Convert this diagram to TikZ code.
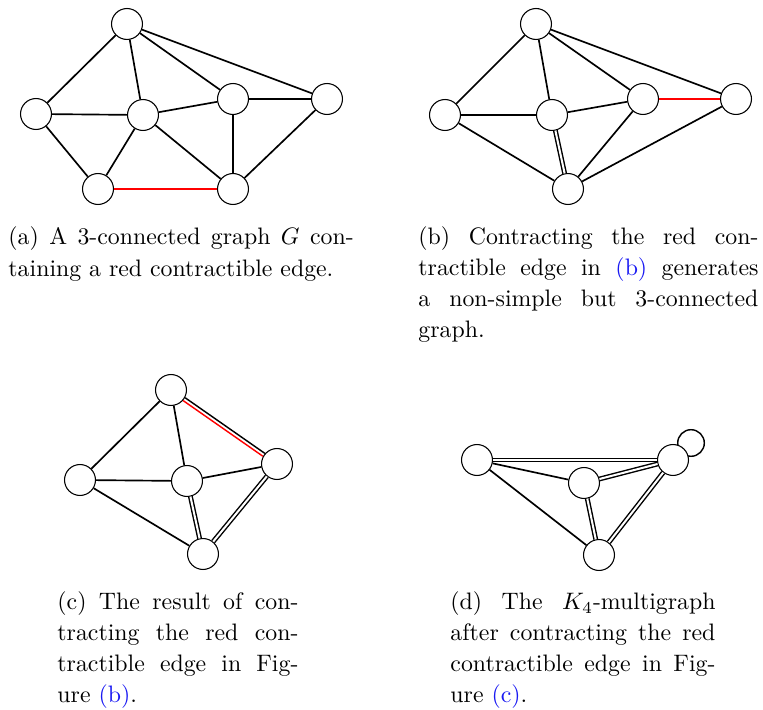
\documentclass[tikz,border=0pt]{standalone}
\pgfdeclarelayer{bg}
\pgfsetlayers{bg,main}
\definecolor{linkblue}{rgb}{0.1,0.1,0.95}
\begin{document}
\begin{tikzpicture}[x=0.42pt,y=-0.42pt,
  vtx/.style={circle,draw,line width=0.45pt,fill=white,minimum size=13pt,inner sep=0pt},
  sedge/.style={line width=0.7pt},
  redge/.style={line width=0.7pt,red},
  medge/.style={double,line width=0.6pt,double distance=0.85pt},
  captxt/.style={anchor=base west,inner sep=0pt,font=\fontsize{10}{12}\selectfont}]
\useasboundingbox (0,0) rectangle (763,710);

% ---------- (a)
\node[vtx] (aT) at (127,24) {};
\node[vtx] (aL) at (36,114) {};
\node[vtx] (aM) at (143,115) {};
\node[vtx] (aR) at (233,99) {};
\node[vtx] (aF) at (327,99) {};
\node[vtx] (aBL) at (98,189) {};
\node[vtx] (aBR) at (233,189) {};
\draw[sedge] (aT) -- (aL);
\draw[sedge] (aT) -- (aM);
\draw[sedge] (aT) -- (aR);
\draw[sedge] (aT) -- (aF);
\draw[sedge] (aL) -- (aM);
\draw[sedge] (aL) -- (aBL);
\draw[sedge] (aM) -- (aR);
\draw[sedge] (aM) -- (aBL);
\draw[sedge] (aM) -- (aBR);
\draw[sedge] (aR) -- (aF);
\draw[sedge] (aR) -- (aBR);
\draw[sedge] (aF) -- (aBR);
\draw[redge] (aBL) -- (aBR);

% ---------- (b)
\node[vtx] (bT) at (536,24) {};
\node[vtx] (bL) at (445,115) {};
\node[vtx] (bM) at (552,115) {};
\node[vtx] (bR) at (643,99) {};
\node[vtx] (bF) at (736,99) {};
\node[vtx] (bB) at (568,189) {};
\draw[sedge] (bT) -- (bL);
\draw[sedge] (bT) -- (bM);
\draw[sedge] (bT) -- (bR);
\draw[sedge] (bT) -- (bF);
\draw[sedge] (bL) -- (bM);
\draw[sedge] (bL) -- (bB);
\draw[sedge] (bM) -- (bR);
\draw[medge] (bM) -- (bB);
\draw[sedge] (bR) -- (bB);
\draw[sedge] (bF) -- (bB);
\draw[redge] (bR) -- (bF);

% ---------- (c)
\node[vtx] (cT) at (171,390) {};
\node[vtx] (cL) at (80,480) {};
\node[vtx] (cM) at (187,481) {};
\node[vtx] (cR) at (277,464) {};
\node[vtx] (cB) at (203,554) {};
\draw[sedge] (cT) -- (cL);
\draw[sedge] (cT) -- (cM);
\draw[line width=0.6pt,transform canvas={shift={(0.42pt,0.6pt)}}] (cT) -- (cR);
\draw[line width=0.6pt,red,transform canvas={shift={(-0.42pt,-0.6pt)}}] (cT) -- (cR);
\draw[sedge] (cL) -- (cM);
\draw[sedge] (cL) -- (cB);
\draw[sedge] (cM) -- (cR);
\draw[medge] (cM) -- (cB);
\draw[medge] (cR) -- (cB);

% ---------- (d)
\node[vtx] (dL) at (477,460) {};
\node[vtx] (dM) at (584,483) {};
\node[vtx] (dR) at (673,460) {};
\node[vtx] (dB) at (599,555) {};
\coordinate (dloop) at (691,443);
\begin{pgfonlayer}{bg}
\draw[line width=0.6pt] (dloop) circle[radius=13.3];
\end{pgfonlayer}
\draw[medge] (dL) -- (dR);
\draw[sedge] (dL) -- (dM);
\draw[sedge] (dL) -- (dB);
\draw[medge] (dM) -- (dR);
\draw[medge] (dM) -- (dB);
\draw[medge] (dR) -- (dB);

% ---------- captions
\node[captxt] (ca1) at (8,245) {\makebox[145pt][s]{(a) A 3-connected graph $G$ con-}};
\node[captxt] (ca2) at (8,277) {taining a red contractible edge.};

\node[captxt] (cb1) at (418,245) {\makebox[142.8pt][s]{(b) Contracting the red con-}};
\node[captxt] (cb2) at (418,276) {\makebox[142.8pt][s]{tractible edge in \textcolor{linkblue}{(b)} generates}};
\node[captxt] (cb3) at (418,307) {\makebox[142.8pt][s]{a non-simple but 3-connected}};
\node[captxt] (cb4) at (418,338) {graph.};

\node[captxt] (cc1) at (57,610) {\makebox[101.2pt][s]{(c) The result of con-}};
\node[captxt] (cc2) at (57,641) {\makebox[101.2pt][s]{tracting the red con-}};
\node[captxt] (cc3) at (57,672) {\makebox[101.2pt][s]{tractible edge in Fig-}};
\node[captxt] (cc4) at (57,703) {ure \textcolor{linkblue}{(b)}.};

\node[captxt] (cd1) at (450,610) {\makebox[111.3pt][s]{(d) The $K_4$-multigraph}};
\node[captxt] (cd2) at (450,641) {\makebox[111.3pt][s]{after contracting the red}};
\node[captxt] (cd3) at (450,672) {\makebox[111.3pt][s]{contractible edge in Fig-}};
\node[captxt] (cd4) at (450,703) {ure \textcolor{linkblue}{(c)}.};
\end{tikzpicture}
\end{document}
